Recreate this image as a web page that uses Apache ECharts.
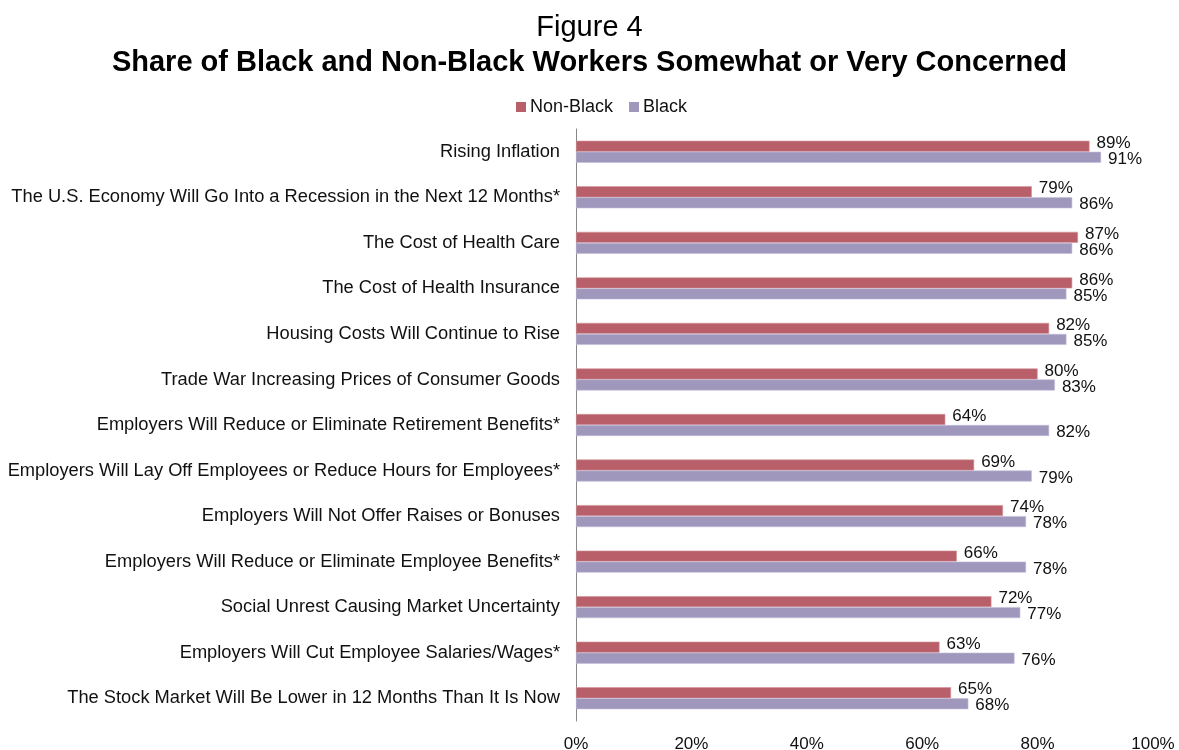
<!DOCTYPE html>
<html>
<head>
<meta charset="utf-8">
<script src="https://cdn.jsdelivr.net/npm/echarts@6/dist/echarts.min.js"></script>
<style>
  html, body { margin: 0; padding: 0; background: #fff; }
  #chart { width: 1179px; height: 750px; }
</style>
</head>
<body>
<div id="chart"></div>
<script>
// Concerns, listed top to bottom
const categories = [
  'Rising Inflation',
  'The U.S. Economy Will Go Into a Recession in the Next 12 Months*',
  'The Cost of Health Care',
  'The Cost of Health Insurance',
  'Housing Costs Will Continue to Rise',
  'Trade War Increasing Prices of Consumer Goods',
  'Employers Will Reduce or Eliminate Retirement Benefits*',
  'Employers Will Lay Off Employees or Reduce Hours for Employees*',
  'Employers Will Not Offer Raises or Bonuses',
  'Employers Will Reduce or Eliminate Employee Benefits*',
  'Social Unrest Causing Market Uncertainty',
  'Employers Will Cut Employee Salaries/Wages*',
  'The Stock Market Will Be Lower in 12 Months Than It Is Now'
];
// Share somewhat or very concerned (%)
const nonBlack = [89, 79, 87, 86, 82, 80, 64, 69, 74, 66, 72, 63, 65];
const black    = [91, 86, 86, 85, 85, 83, 82, 79, 78, 78, 77, 76, 68];
const xTicks = [0, 20, 40, 60, 80, 100];

const FONT = '"Liberation Sans", Arial, sans-serif';
const chart = echarts.init(document.getElementById('chart'));

const labelStyle = (dy) => ({
  show: true,
  position: 'right',
  distance: 7,
  offset: [0, dy],
  formatter: (p) => p.value + '%',
  fontFamily: FONT,
  fontSize: 17,
  color: '#111'
});

chart.setOption({
  animation: false,
  title: [
    {
      text: 'Figure 4',
      left: 'center',
      top: 8,
      textStyle: { fontFamily: FONT, fontSize: 29, fontWeight: 'normal', color: '#000' }
    },
    {
      text: 'Share of Black and Non-Black Workers Somewhat or Very Concerned',
      left: 'center',
      top: 43,
      textStyle: { fontFamily: FONT, fontSize: 29, fontWeight: 'bold', color: '#000' }
    }
  ],
  legend: {
    top: 98,
    left: 516,
    padding: 0,
    itemWidth: 10,
    itemHeight: 10,
    itemGap: 16,
    icon: 'rect',
    itemStyle: { borderWidth: 0 },
    textStyle: { fontFamily: FONT, fontSize: 18, color: '#111', padding: [0, 0, 0, -1] },
    data: ['Non-Black', 'Black']
  },
  grid: {
    left: 576,
    right: 26,
    top: 129,
    bottom: 29,
    outerBoundsMode: 'none',
    containLabel: false
  },
  xAxis: {
    type: 'value',
    min: 0,
    max: 100,
    interval: 20,
    axisLine: { show: false },
    axisTick: { show: false },
    splitLine: { show: false },
    axisLabel: {
      fontFamily: FONT,
      fontSize: 17,
      color: '#111',
      margin: 15,
      formatter: (v) => (xTicks.includes(v) ? v + '%' : '')
    }
  },
  yAxis: {
    type: 'category',
    inverse: true,
    data: categories,
    axisLine: { show: true, lineStyle: { color: '#888', width: 1 } },
    axisTick: { show: false },
    axisLabel: {
      fontFamily: FONT,
      fontSize: 18.3,
      color: '#111',
      margin: 16
    }
  },
  series: [
    {
      name: 'Non-Black',
      type: 'bar',
      data: nonBlack,
      barWidth: 11,
      barGap: '0%',
      itemStyle: { color: '#B95F69', borderColor: '#D3939A', borderWidth: 0.6 },
      label: labelStyle(-3)
    },
    {
      name: 'Black',
      type: 'bar',
      data: black,
      barWidth: 11,
      barGap: '0%',
      itemStyle: { color: '#9F97BC', borderColor: '#C3BDD8', borderWidth: 0.6 },
      label: labelStyle(2)
    }
  ]
});
</script>
</body>
</html>
